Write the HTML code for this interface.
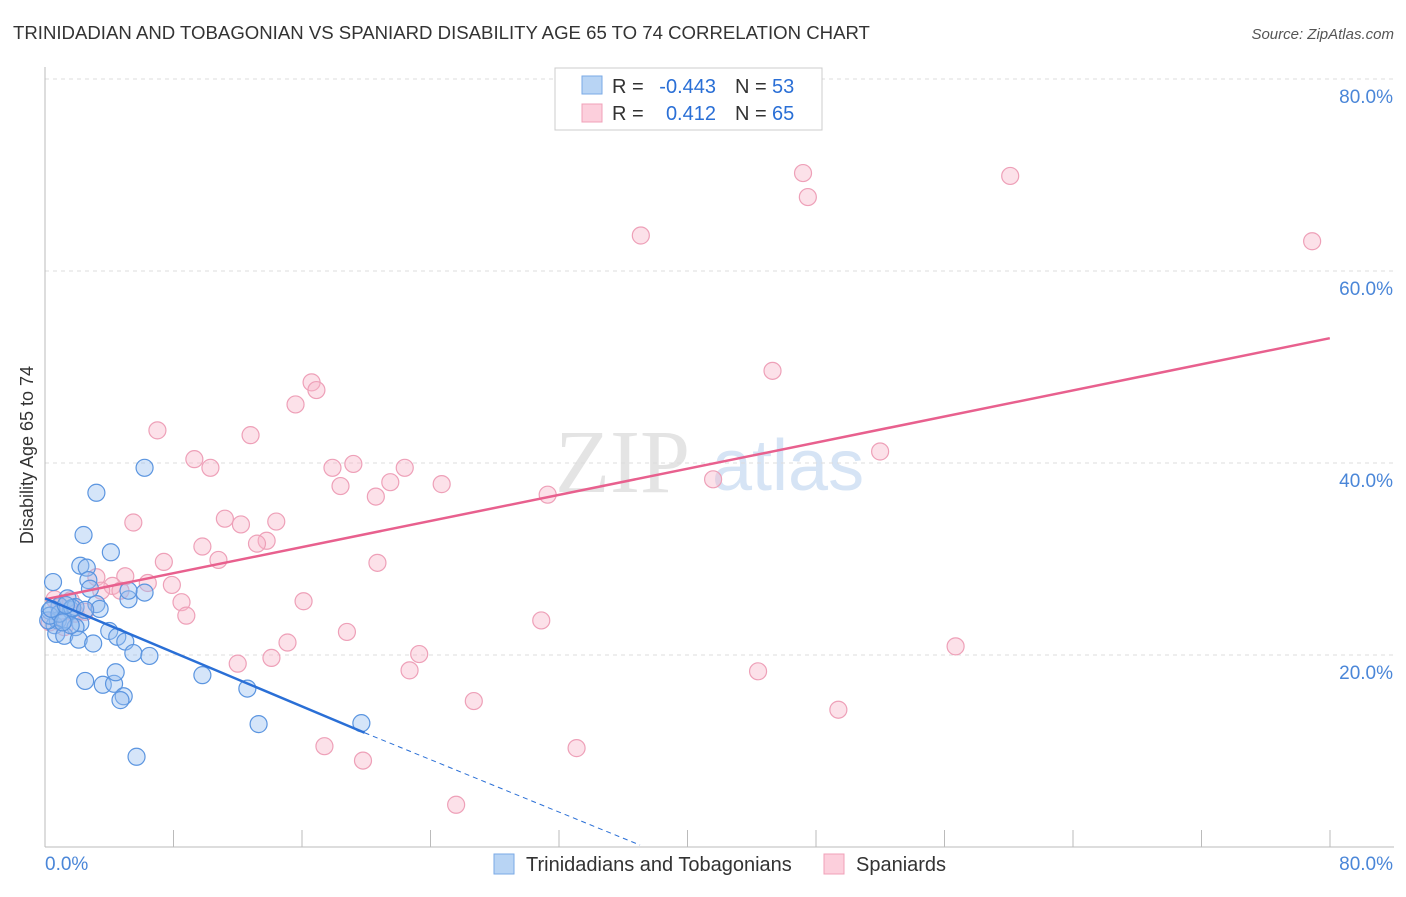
<!DOCTYPE html>
<html><head><meta charset="utf-8"><style>
body{margin:0;background:#fff;font-family:"Liberation Sans",sans-serif;}
</style></head><body>
<svg id="chart" width="1406" height="892" xmlns="http://www.w3.org/2000/svg" font-family="Liberation Sans, sans-serif">
<text x="13" y="39" font-size="18.6" fill="#333">TRINIDADIAN AND TOBAGONIAN VS SPANIARD DISABILITY AGE 65 TO 74 CORRELATION CHART</text>
<text x="1394" y="39" font-size="15" fill="#555" text-anchor="end" font-style="italic">Source: ZipAtlas.com</text>
<text x="555" y="492" font-size="90" fill="#e4e4e4" font-family="Liberation Serif, serif">ZIP</text>
<text x="712" y="490" font-size="72" fill="#d6e4f5">atlas</text>
<text transform="translate(33,455) rotate(-90)" font-size="18" fill="#333" text-anchor="middle">Disability Age 65 to 74</text>
<g id="grid"></g><g id="axes"></g><g id="pts"></g><g id="lines"></g>
<g>
<rect x="555" y="68" width="267" height="62" fill="#fff" stroke="#ccc"/>
<rect x="582" y="76" width="20" height="18" fill="#b8d4f4" stroke="#7aaae6"/>
<rect x="582" y="104" width="20" height="18" fill="#fccfdc" stroke="#f0a0b8"/>
<text x="612" y="93" font-size="20" fill="#333">R =</text>
<text x="716" y="93" font-size="20" fill="#2a6fd6" text-anchor="end">-0.443</text>
<text x="735" y="93" font-size="20" fill="#333">N =</text>
<text x="772" y="93" font-size="20" fill="#2a6fd6">53</text>
<text x="612" y="120" font-size="20" fill="#333">R =</text>
<text x="716" y="120" font-size="20" fill="#2a6fd6" text-anchor="end">0.412</text>
<text x="735" y="120" font-size="20" fill="#333">N =</text>
<text x="772" y="120" font-size="20" fill="#2a6fd6">65</text>
</g>
<g>
<rect x="494" y="854" width="20" height="20" fill="#b8d4f4" stroke="#7aaae6"/>
<text x="526" y="871" font-size="20" fill="#333">Trinidadians and Tobagonians</text>
<rect x="824" y="854" width="20" height="20" fill="#fccfdc" stroke="#f0a0b8"/>
<text x="856" y="871" font-size="20" fill="#333">Spaniards</text>
</g>
</svg>
<script>
const yTicks=[20,40,60,80];
const yTickLabels=["20.0%","40.0%","60.0%","80.0%"];
const blueX=[6.2,3.2,2.4,4.1,0.5,2.2,2.6,2.7,2.8,1.4,3.2,3.4,5.2,6.2,5.2,0.9,1.6,1.9,0.3,0.6,0.8,1.2,2.2,1.9,0.7,1.2,2.1,3.0,4.0,4.5,5.0,5.5,6.5,9.8,2.5,3.6,4.3,4.4,4.9,4.7,12.6,13.3,19.7,5.7,0.2,0.3,1.6,0.9,1.7,2.5,0.4,1.1,1.3];
const blueY=[39.5,36.9,32.5,30.7,27.6,29.3,29.1,27.8,26.9,25.9,25.3,24.8,25.8,26.5,26.7,25.1,24.7,25.0,24.6,23.1,23.6,23.6,23.3,22.9,22.2,22.0,21.6,21.2,22.5,21.9,21.4,20.2,19.9,17.9,17.3,16.9,17.0,18.2,15.7,15.3,16.5,12.8,12.9,9.4,23.6,24.1,23.1,24.3,24.9,24.7,24.8,23.4,25.2];
const pinkX=[37.1,47.2,47.5,60.1,78.9,45.3,52.0,41.6,31.3,16.6,16.9,15.6,7.0,12.8,9.3,10.3,17.9,19.2,22.4,18.4,21.5,20.6,24.7,5.5,11.2,12.2,14.4,13.8,13.2,9.8,10.8,7.4,20.7,3.2,5.0,6.4,7.9,4.2,4.7,3.5,8.5,8.8,16.1,18.8,30.9,56.7,15.1,14.1,12.0,23.3,22.7,44.4,26.7,49.4,17.4,33.1,19.8,25.6,0.6,0.9,1.9,0.3,1.2,2.5,1.6];
const pinkY=[63.7,70.2,67.7,69.9,63.1,49.6,41.2,38.3,36.7,48.4,47.6,46.1,43.4,42.9,40.4,39.5,39.5,39.9,39.5,37.6,38.0,36.5,37.8,33.8,34.2,33.6,33.9,31.9,31.6,31.3,29.9,29.7,29.6,28.1,28.2,27.5,27.3,27.2,26.7,26.7,25.5,24.1,25.6,22.4,23.6,20.9,21.3,19.7,19.1,20.1,18.4,18.3,15.2,14.3,10.5,10.3,9.0,4.4,25.8,25.0,24.3,23.4,22.9,24.5,25.7];
const blueTrend=[[0,25.9],[19.9,11.9]];
const blueDash=[[19.9,11.9],[37.05,0.2]];
const pinkTrend=[[0,25.8],[80,53.0]];
const NS="http://www.w3.org/2000/svg";
const sx=v=>45+v*16.06, sy=v=>847-v*9.6;
function mk(tag,attrs,parent){const e=document.createElementNS(NS,tag);for(const k in attrs)e.setAttribute(k,attrs[k]);parent.appendChild(e);return e;}
const grid=document.getElementById('grid'),axes=document.getElementById('axes'),pts=document.getElementById('pts'),lines=document.getElementById('lines');
yTicks.forEach((t,i)=>{
 const l=mk('line',{x1:45,x2:1394,y1:sy(t),y2:sy(t),stroke:'#ddd','stroke-dasharray':'4,4'},grid);
 
 
 const tx=mk('text',{x:1393,y:sy(t)+24,'font-size':19,fill:'#4a86d8','text-anchor':'end'},axes);
 tx.textContent=yTickLabels[i];
 
 
});
const ya=mk('line',{x1:45,x2:45,y1:67,y2:847,stroke:'#bbb'},axes);


const xa=mk('line',{x1:45,x2:1394,y1:847,y2:847,stroke:'#bbb'},axes);


for(let i=0;i<=10;i++){const x=45+i*128.5;const t=mk('line',{x1:x,x2:x,y1:830,y2:847,stroke:'#bbb'},axes);
 
 }
[[0,"0.0%","start"],[80,"80.0%","end"]].forEach(d=>{const t=mk('text',{x:d[0]?1393:45,y:870,'font-size':19,fill:'#4a86d8','text-anchor':d[2]},axes);t.textContent=d[1];
 
 });
pinkX.forEach((x,i)=>{const c=mk('circle',{cx:sx(x),cy:sy(pinkY[i]),r:8.5,fill:'rgba(248,180,200,0.4)',stroke:'#eea0b8','stroke-width':1.2},pts);
 
 });
blueX.forEach((x,i)=>{const c=mk('circle',{cx:sx(x),cy:sy(blueY[i]),r:8.5,fill:'rgba(150,190,240,0.4)',stroke:'#5b95e0','stroke-width':1.2},pts);
 
 });
const pl=mk('line',{x1:sx(pinkTrend[0][0]),y1:sy(pinkTrend[0][1]),x2:sx(pinkTrend[1][0]),y2:sy(pinkTrend[1][1]),stroke:'#e8608e','stroke-width':2.5},lines);


const bl=mk('line',{x1:sx(blueTrend[0][0]),y1:sy(blueTrend[0][1]),x2:sx(blueTrend[1][0]),y2:sy(blueTrend[1][1]),stroke:'#2a6fd6','stroke-width':2.5},lines);


const bd=mk('line',{x1:sx(blueDash[0][0]),y1:sy(blueDash[0][1]),x2:sx(blueDash[1][0]),y2:sy(blueDash[1][1]),stroke:'#2a6fd6','stroke-width':1,'stroke-dasharray':'5,4'},lines);


</script>
</body></html>
